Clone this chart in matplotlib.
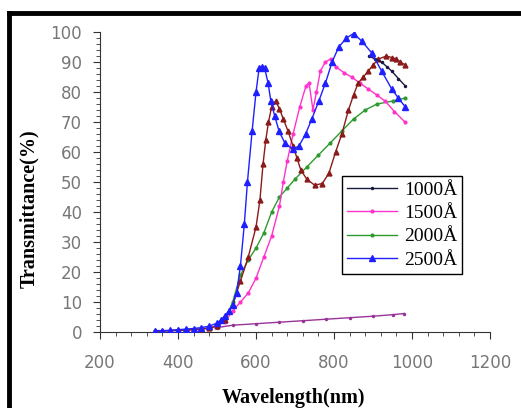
import matplotlib
matplotlib.use("Agg")
import matplotlib.pyplot as plt
from matplotlib.lines import Line2D
from matplotlib.ticker import MultipleLocator

# 2500 A film (blue triangles)
wl_2500 = [340, 360, 380, 400, 420, 440, 460, 480, 500, 510, 520, 530, 540, 550, 560, 570, 578, 590,
           600, 608, 615, 622, 631, 638, 648, 659, 674, 694, 710, 727, 743, 761, 778, 795, 812, 832,
           850, 871, 897, 922, 948, 965, 983]
t_2500 = [0.5, 0.5, 0.6, 0.8, 1.0, 1.2, 1.5, 2.0, 3.0, 4.0, 5.5, 7.0, 9.0, 13, 22, 36, 50, 67,
          80, 88, 88.5, 88, 83, 77, 72, 67, 63, 61, 62, 66, 71, 77, 83, 90, 95, 98,
          99.5, 97, 93, 87, 81, 78, 75]

# maroon triangles
wl_m = [340, 360, 380, 400, 420, 440, 460, 480, 500, 520, 540, 560, 580, 600, 610, 618, 625, 632,
        640, 650, 660, 670, 682, 695, 705, 715, 730, 750, 770, 787, 804, 820, 837, 850, 862, 875,
        888, 900, 914, 934, 948, 960, 970, 983]
t_m = [0.3, 0.4, 0.5, 0.6, 0.7, 0.8, 1.0, 1.3, 2.0, 4.0, 9, 17, 25, 35, 44, 56, 64, 70,
       75, 77, 74.5, 71, 67, 62, 58, 54, 51, 49, 49.5, 53, 60, 66, 74, 79, 83, 85,
       87, 89, 91, 92, 91.5, 91, 90, 89]

# 1500 A film (pink)
wl_1500 = [340, 380, 420, 460, 500, 520, 540, 560, 580, 600, 620, 640, 660, 670, 680, 695, 712, 728,
           736, 746, 755, 765, 778, 791, 804, 825, 845, 866, 888, 910, 931, 955, 982]
t_1500 = [0.3, 0.5, 0.7, 1.0, 2.0, 3.5, 7, 10, 13, 18, 25, 32, 42, 50, 57, 66, 75, 82,
          83, 74, 80, 87, 90, 91, 88.5, 86.5, 85, 83, 81, 79, 77, 73.5, 70]

# 2000 A film (green)
wl_2000 = [340, 380, 420, 460, 500, 520, 540, 560, 580, 600, 620, 640, 660, 680, 700, 730, 760, 790,
           820, 850, 880, 910, 950, 983]
t_2000 = [0.3, 0.5, 0.7, 1.0, 2.0, 4, 10, 19, 24, 28, 33, 40, 45, 48, 51, 55, 59, 63,
          67, 71, 74, 76, 77, 78]

# 1000 A film (dark)
wl_1000 = [890, 905, 922, 935, 948, 965, 983]
t_1000 = [92, 91, 90, 88.5, 87, 84.5, 82]

# low purple trace
wl_low = [500, 540, 600, 660, 720, 780, 840, 900, 950, 980]
t_low = [1.5, 2.3, 2.8, 3.3, 3.8, 4.3, 4.8, 5.3, 5.8, 6.2]

fig = plt.figure(figsize=(5.21, 4.08), dpi=100)
ax = fig.add_axes([0.192, 0.186, 0.7485, 0.7355])

ax.plot(wl_low, t_low, color="#993399", lw=1, marker=".", ms=3)
ax.plot(wl_2000, t_2000, color="#2e9a2e", lw=1, marker="o", ms=2, label="2000Å", zorder=3)
ax.plot(wl_1500, t_1500, color="#ff33cc", lw=1, marker="o", ms=2, label="1500Å", zorder=3)
ax.plot(wl_m, t_m, color="#8b1a1a", lw=1, marker="^", ms=3.5, zorder=4)
ax.plot(wl_1000, t_1000, color="#1a1a40", lw=1, marker=".", ms=3, label="1000Å", zorder=4)
ax.plot(wl_2500, t_2500, color="#1f1fff", lw=1, marker="^", ms=4, label="2500Å", zorder=5)

ax.set_xlim(200, 1200)
ax.set_ylim(0, 100)
ax.xaxis.set_major_locator(MultipleLocator(200))
ax.xaxis.set_minor_locator(MultipleLocator(40))
ax.yaxis.set_major_locator(MultipleLocator(10))
ax.yaxis.set_minor_locator(MultipleLocator(2))
for s in ["top", "right"]:
    ax.spines[s].set_visible(False)
for s in ["left", "bottom"]:
    ax.spines[s].set_color("#333333")
ax.tick_params(which="major", length=5, color="#333333", labelsize=12, labelcolor="#777777")
ax.tick_params(which="minor", length=3, color="#333333")
ax.tick_params(axis="x", which="major", pad=11)
ax.tick_params(axis="y", which="major", pad=8)

ax.set_xlabel("Wavelength(nm)", family="Liberation Serif", fontweight="bold", fontsize=14.5)
ax.set_ylabel("Transmittance(%)", family="Liberation Serif", fontweight="bold", fontsize=14.5)
ax.xaxis.set_label_coords(0.495, -0.185)
ax.yaxis.set_label_coords(-0.155, 0.41)

handles, labels = ax.get_legend_handles_labels()
order = [labels.index(l) for l in ["1000Å", "1500Å", "2000Å", "2500Å"]]
leg = ax.legend([handles[i] for i in order], [labels[i] for i in order],
                loc="upper left", bbox_to_anchor=(0.62, 0.52), fancybox=False,
                edgecolor="black", framealpha=1, handlelength=2.6,
                prop={"family": "Liberation Serif", "size": 14}, borderpad=0.25,
                labelspacing=0.3, handletextpad=0.35, borderaxespad=0)
leg.get_frame().set_linewidth(1)

# black border on top and left
fig.add_artist(Line2D([0.017, 1.0], [0.968, 0.968], color="black", lw=3.5, transform=fig.transFigure))
fig.add_artist(Line2D([0.017, 0.017], [0.0, 0.968], color="black", lw=3.5, transform=fig.transFigure))

fig.savefig("out.png", dpi=100)
